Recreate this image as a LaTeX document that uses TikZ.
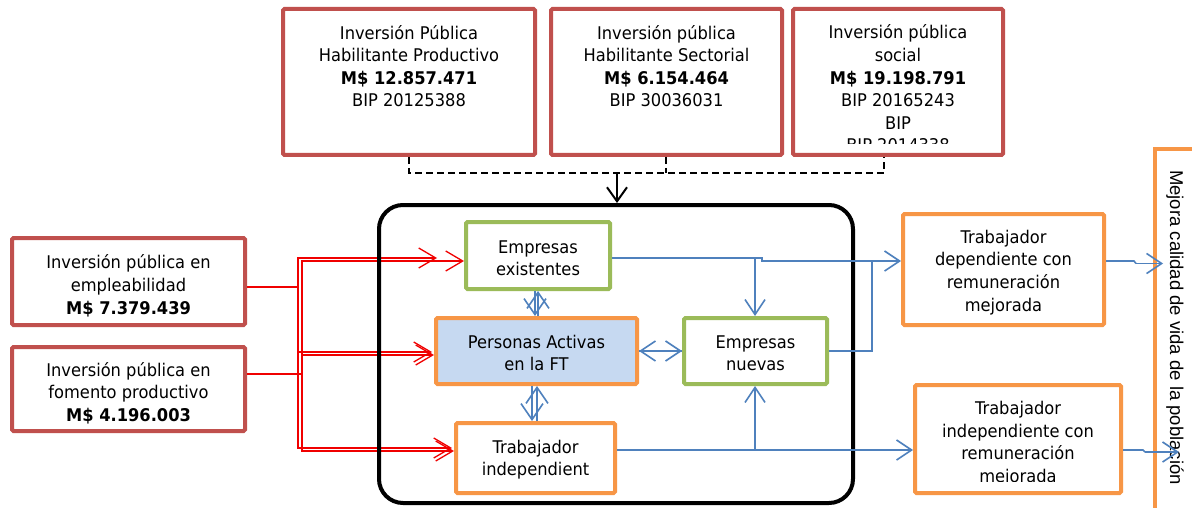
\documentclass[tikz,border=0pt]{standalone}
\usepackage{fontspec}
\setmainfont{DejaVu Sans}[FakeStretch=0.93]
\newfontfamily\arialfont{Liberation Sans}
\usetikzlibrary{arrows.meta}
\definecolor{boxred}{HTML}{C0504D}
\definecolor{boxgreen}{HTML}{9BBB59}
\definecolor{boxorange}{HTML}{F79646}
\definecolor{fillblue}{HTML}{C6D9F1}
\definecolor{lineblue}{HTML}{4F81BD}
\definecolor{linered}{HTML}{F00000}
\tikzset{
  redbox/.style={draw=boxred, line width=4pt, fill=white, rounded corners=1.5pt},
  greenbox/.style={draw=boxgreen, line width=4pt, fill=white, rounded corners=1.5pt},
  orangebox/.style={draw=boxorange, line width=4pt, fill=white, rounded corners=1.5pt},
  txt/.style={align=center, inner sep=0pt, anchor=base, font=\fontsize{17.5}{22.6}\selectfont},
  bluearrow/.style={draw=lineblue, line width=1.6pt, -{Straight Barb[length=15pt,width=20pt]}},
  bluevert/.style={draw=lineblue, line width=1.6pt, -{Straight Barb[length=16pt,width=22pt]}},
  blueline/.style={draw=lineblue, line width=1.6pt},
  redarrow/.style={draw=linered, line width=1.3pt, -{Straight Barb[length=17pt,width=20pt]}},
  redline/.style={draw=linered, line width=1.3pt},
  dashline/.style={draw=black, line width=1.5pt, dash pattern=on 7pt off 4pt},
  blackarrow/.style={draw=black, line width=2pt, -{Straight Barb[length=14pt,width=20pt]}}
}
\begin{document}
\begin{tikzpicture}[x=1pt,y=-1pt]
\useasboundingbox (0,0) rectangle (1192,508);
\fill[white] (0,0) rectangle (1192,508);

% dashed connectors behind top boxes
\coordinate (dj) at (617,173);
\coordinate (dl) at (409,173);
\coordinate (dr) at (884,173);
\coordinate (dm) at (666,173);

% top boxes
\node[redbox, minimum width=252pt, minimum height=146pt] (b1) at (409,82) {};
\node[redbox, minimum width=231pt, minimum height=146pt] (b2) at (666.5,82) {};
\node[redbox, minimum width=210pt, minimum height=146pt] (b3) at (898,82) {};
\draw[dashline] (b1.south) -- (dl) -- (dr) -- (dr |- b3.south);
\draw[dashline] (b2.south -| dm) -- (dm);

\node[txt] (t1) at (409,107) {Inversión Pública\\Habilitante Productivo\\\textbf{M\$ 12.857.471}\\BIP 20125388};
\node[txt] (t2) at (666.5,107) {Inversión pública\\Habilitante Sectorial\\\textbf{M\$ 6.154.464}\\BIP 30036031};
\begin{scope}
\clip (791,7) rectangle (1005,144);
\node[txt] (t3) at (898,152) {Inversión pública\\social\\\textbf{M\$ 19.198.791}\\BIP 20165243\\BIP\\BIP 2014338};
\end{scope}

% left boxes
\node[redbox, minimum width=233pt, minimum height=87pt] (emp) at (128.5,281.5) {};
\node[txt] (tem) at (128.5,314) {Inversión pública en\\empleabilidad\\\textbf{M\$ 7.379.439}};
\node[redbox, minimum width=233pt, minimum height=84pt] (fom) at (128.5,389) {};
\node[txt] (tfo) at (128.5,421.5) {Inversión pública en\\fomento productivo\\\textbf{M\$ 4.196.003}};

% red connectors
\coordinate (ej) at (298,287);
\coordinate (fj) at (302,374);
\coordinate (r1) at (437,258);
\coordinate (r2) at (432,352);
\coordinate (r3) at (452,448);
\coordinate (s1) at (464,261);
\coordinate (s2) at (434,355);
\coordinate (s3) at (454,451);
\draw[redline] (emp.east |- ej) -- (ej);
\draw[redline] (fom.east |- fj) -- (fj);
\draw[redarrow] (ej) |- (r1);
\draw[redarrow] (ej) |- (r2);
\draw[redarrow] (ej) |- (r3);
\draw[redarrow] (fj) |- (s1);
\draw[redarrow] (fj) |- (s2);
\draw[redarrow] (fj) |- (s3);

% big rounded frame
\node[draw=black, line width=4pt, rounded corners=24pt, minimum width=474pt, minimum height=298pt] (big) at (616,354) {};
\draw[blackarrow] (dj) -- (big.north -| dj);

% inner boxes
\node[greenbox, minimum width=144pt, minimum height=67pt] (ex) at (538,255.5) {};
\node[txt] (tex) at (538,275.9) {Empresas\\existentes};
\node[orangebox, fill=fillblue, minimum width=201pt, minimum height=66pt] (pa) at (536.5,351) {};
\node[txt] (tpa) at (536.5,370.9) {Personas Activas\\en la FT};
\node[greenbox, minimum width=143pt, minimum height=66pt] (nu) at (755.5,351) {};
\node[txt] (tnu) at (755.5,370.9) {Empresas\\nuevas};
\node[orangebox, minimum width=159pt, minimum height=70pt] (ti) at (535.5,458) {};
\node[txt] (tti) at (535.5,475.9) {Trabajador\\independient};

% right boxes
\node[orangebox, minimum width=201pt, minimum height=111pt] (dep) at (1003.5,269.5) {};
\node[txt] (tdep) at (1003.5,311) {Trabajador\\dependiente con\\remuneración\\mejorada};
\node[orangebox, minimum width=206pt, minimum height=108pt] (ic) at (1018,439) {};
\begin{scope}
\clip (913,383) rectangle (1123,481.5);
\node[txt] (tic) at (1018,482.5) {Trabajador\\independiente con\\remuneración\\mejorada};
\end{scope}

% outcome column
\node[orangebox, rounded corners=0pt, anchor=north west, minimum width=70pt, minimum height=400pt] (mej) at (1153,147) {};
\node[rotate=-90, inner sep=0pt, font=\arialfont\fontsize{18.5}{22}\selectfont] (tmej) at (1175,327.5) {Mejora calidad de vida de la población};

% blue connectors
\coordinate (k1) at (755,258);
\coordinate (k2) at (762,258);
\coordinate (k3) at (762,261);
\coordinate (k4) at (872,261);
\coordinate (k5) at (755,450);
\coordinate (v1a) at (538,316);
\coordinate (v1b) at (538,291);
\coordinate (v2a) at (535,291);
\coordinate (v2b) at (535,316);
\coordinate (v3a) at (537,421);
\coordinate (v3b) at (537,386);
\coordinate (v4a) at (532,386);
\coordinate (v4b) at (532,421);
\coordinate (d1) at (1134,261);
\coordinate (d2) at (1136,263.5);
\coordinate (d3) at (1163,263.5);
\coordinate (i1) at (1143,450);
\coordinate (i2) at (1145,452);
\coordinate (i3) at (1179,452);
\draw[bluevert] (v1a) -- (v1b);
\draw[bluevert] (v2a) -- (v2b);
\draw[bluevert] (v3a) -- (v3b);
\draw[bluevert] (v4a) -- (v4b);
\draw[bluearrow] (pa.east) -- (nu.west);
\draw[bluearrow] (nu.west) -- (pa.east);
\draw[blueline] (ex.east |- k1) -- (k1) -- (k2) -- (k3) -- (k4);
\draw[bluearrow] (k4) -- (dep.west |- k4);
\draw[bluearrow] (k1) -- (nu.north -| k1);
\draw[blueline] (nu.east) -| (k4);
\draw[bluearrow] (ti.east |- k5) -- (ic.west |- k5);
\draw[bluearrow] (k5) -- (nu.south -| k5);
\draw[blueline] (dep.east |- d1) -- (d1) -- (d2);
\draw[bluearrow] (d2) -- (d3);
\draw[blueline] (ic.east |- i1) -- (i1) -- (i2);
\draw[bluearrow] (i2) -- (i3);
\end{tikzpicture}
\end{document}
